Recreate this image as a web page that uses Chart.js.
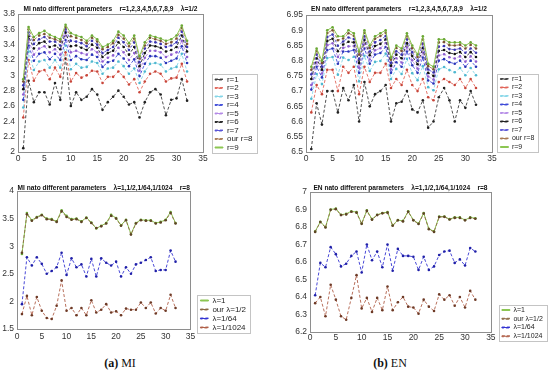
<!doctype html>
<html lang="en">
<head>
  <meta charset="utf-8">
  <title>MI / EN nato different parameters</title>
  <style type="text/css">
    html, body {
      margin: 0;
      padding: 0;
      background: #fff;
      overflow: hidden;
    }
    .panel {
      position: absolute;
    }
    .cap {
      position: absolute;
      text-align: center;
      font-family: "Liberation Serif", "DejaVu Serif", serif;
      font-size: 12px;
      line-height: 14px;
      color: #111;
    }
  </style>
</head>
<body>

  <canvas id="chart_mi_r" class="panel" style="left:0px;top:0px;"></canvas>
  <canvas id="chart_en_r" class="panel" style="left:275px;top:0px;"></canvas>
  <canvas id="chart_mi_lam" class="panel" style="left:0px;top:175px;"></canvas>
  <canvas id="chart_en_lam" class="panel" style="left:275px;top:175px;"></canvas>

  <div class="cap" style="left:0px;width:240px;top:356px;"><b>(a)</b> MI</div>
  <div class="cap" style="left:280px;width:220px;top:356px;"><b>(b)</b> EN</div>

  <script src="https://cdn.jsdelivr.net/npm/chart.js"></script>

  <script>
    const xs = [1, 2, 3, 4, 5, 6, 7, 8, 9, 10, 11, 12, 13, 14, 15, 16, 17, 18, 19, 20, 21, 22, 23, 24, 25, 26, 27, 28, 29, 30, 31, 32];

    const labels_r = ['r=1', 'r=2', 'r=3', 'r=4', 'r=5', 'r=6', 'r=7', 'our r=8', 'r=9'];
    const labels_lambda = ['\u03bb=1', 'our \u03bb=1/2', '\u03bb=1/64', '\u03bb=1/1024'];

    // MI, lambda = 1/2, r = 1..9
    const mi_r1 = [2.05, 2.93, 2.65, 2.78, 2.78, 2.62, 2.90, 2.68, 3.22, 2.60, 2.78, 2.68, 2.72, 2.82, 2.75, 2.55, 2.65, 2.72, 2.80, 2.72, 2.62, 2.65, 2.45, 2.65, 2.78, 2.82, 2.75, 2.48, 2.68, 2.70, 2.95, 2.67];
    const mi_r2 = [2.45, 3.20, 2.93, 3.05, 3.07, 2.95, 3.10, 2.98, 3.30, 2.92, 3.03, 2.97, 3.00, 3.06, 3.05, 2.90, 2.98, 2.98, 3.05, 2.98, 2.88, 2.95, 2.78, 2.92, 3.02, 3.05, 3.02, 2.92, 2.96, 2.97, 3.15, 2.92];
    const mi_r3 = [2.58, 3.31, 3.07, 3.18, 3.20, 3.10, 3.20, 3.10, 3.39, 3.08, 3.15, 3.10, 3.11, 3.18, 3.16, 3.02, 3.09, 3.10, 3.18, 3.12, 3.02, 3.09, 2.90, 3.05, 3.15, 3.16, 3.14, 3.05, 3.09, 3.11, 3.28, 3.05];
    const mi_r4 = [2.68, 3.39, 3.19, 3.28, 3.30, 3.21, 3.28, 3.20, 3.46, 3.20, 3.25, 3.21, 3.20, 3.27, 3.24, 3.11, 3.17, 3.19, 3.28, 3.22, 3.12, 3.21, 2.99, 3.15, 3.25, 3.25, 3.23, 3.16, 3.19, 3.22, 3.38, 3.16];
    const mi_r5 = [2.75, 3.46, 3.27, 3.35, 3.38, 3.30, 3.34, 3.27, 3.52, 3.30, 3.32, 3.29, 3.27, 3.34, 3.30, 3.18, 3.23, 3.26, 3.36, 3.30, 3.20, 3.29, 3.06, 3.23, 3.32, 3.32, 3.30, 3.24, 3.27, 3.30, 3.45, 3.24];
    const mi_r6 = [2.82, 3.51, 3.35, 3.42, 3.44, 3.37, 3.39, 3.34, 3.56, 3.38, 3.39, 3.36, 3.33, 3.40, 3.36, 3.24, 3.29, 3.32, 3.43, 3.37, 3.27, 3.37, 3.12, 3.29, 3.39, 3.38, 3.36, 3.31, 3.33, 3.37, 3.52, 3.31];
    const mi_r7 = [2.87, 3.56, 3.41, 3.47, 3.50, 3.44, 3.44, 3.39, 3.60, 3.45, 3.44, 3.42, 3.38, 3.45, 3.40, 3.29, 3.33, 3.37, 3.49, 3.43, 3.33, 3.43, 3.17, 3.35, 3.44, 3.43, 3.41, 3.37, 3.39, 3.43, 3.57, 3.37];
    const mi_r8 = [2.92, 3.60, 3.46, 3.52, 3.54, 3.49, 3.47, 3.44, 3.63, 3.51, 3.49, 3.46, 3.42, 3.49, 3.44, 3.34, 3.37, 3.42, 3.53, 3.48, 3.38, 3.48, 3.22, 3.39, 3.49, 3.47, 3.45, 3.41, 3.43, 3.48, 3.62, 3.41];
    const mi_r9 = [2.95, 3.63, 3.50, 3.55, 3.58, 3.53, 3.50, 3.47, 3.66, 3.55, 3.52, 3.50, 3.45, 3.52, 3.47, 3.37, 3.40, 3.45, 3.57, 3.52, 3.42, 3.52, 3.25, 3.43, 3.52, 3.50, 3.48, 3.45, 3.47, 3.52, 3.65, 3.45];

    // EN, lambda = 1/2, r = 1..9
    const en_r1 = [6.51, 6.66, 6.59, 6.70, 6.70, 6.63, 6.71, 6.67, 6.72, 6.60, 6.73, 6.65, 6.69, 6.70, 6.72, 6.60, 6.66, 6.665, 6.70, 6.64, 6.63, 6.67, 6.58, 6.60, 6.68, 6.71, 6.67, 6.60, 6.67, 6.645, 6.70, 6.655];
    const en_r2 = [6.63, 6.72, 6.69, 6.77, 6.77, 6.70, 6.78, 6.76, 6.78, 6.69, 6.78, 6.73, 6.76, 6.76, 6.79, 6.71, 6.74, 6.72, 6.77, 6.72, 6.70, 6.74, 6.68, 6.67, 6.73, 6.74, 6.73, 6.72, 6.74, 6.71, 6.74, 6.71];
    const en_r3 = [6.675, 6.756, 6.723, 6.809, 6.812, 6.754, 6.81, 6.802, 6.813, 6.732, 6.816, 6.766, 6.796, 6.799, 6.823, 6.74, 6.773, 6.756, 6.806, 6.759, 6.736, 6.782, 6.713, 6.703, 6.772, 6.779, 6.769, 6.762, 6.776, 6.752, 6.776, 6.752];
    const en_r4 = [6.705, 6.78, 6.745, 6.835, 6.84, 6.79, 6.83, 6.83, 6.835, 6.76, 6.84, 6.79, 6.82, 6.825, 6.845, 6.76, 6.795, 6.78, 6.83, 6.785, 6.76, 6.81, 6.735, 6.725, 6.80, 6.805, 6.795, 6.79, 6.80, 6.78, 6.80, 6.78];
    const en_r5 = [6.72, 6.794, 6.758, 6.851, 6.857, 6.812, 6.842, 6.847, 6.848, 6.777, 6.854, 6.804, 6.834, 6.841, 6.858, 6.772, 6.808, 6.794, 6.844, 6.801, 6.774, 6.827, 6.748, 6.738, 6.817, 6.821, 6.811, 6.807, 6.814, 6.797, 6.814, 6.797];
    const en_r6 = [6.74, 6.808, 6.77, 6.865, 6.872, 6.831, 6.853, 6.862, 6.86, 6.792, 6.868, 6.818, 6.848, 6.855, 6.87, 6.783, 6.82, 6.808, 6.858, 6.815, 6.788, 6.842, 6.76, 6.75, 6.832, 6.835, 6.825, 6.822, 6.828, 6.812, 6.828, 6.812];
    const en_r7 = [6.755, 6.82, 6.781, 6.878, 6.886, 6.849, 6.863, 6.876, 6.871, 6.806, 6.88, 6.83, 6.86, 6.868, 6.881, 6.793, 6.831, 6.82, 6.87, 6.828, 6.80, 6.856, 6.771, 6.761, 6.846, 6.848, 6.838, 6.836, 6.84, 6.826, 6.84, 6.826];
    const en_r8 = [6.77, 6.832, 6.792, 6.891, 6.90, 6.867, 6.873, 6.89, 6.882, 6.82, 6.892, 6.842, 6.872, 6.881, 6.892, 6.803, 6.842, 6.832, 6.882, 6.841, 6.812, 6.87, 6.782, 6.772, 6.86, 6.861, 6.851, 6.85, 6.852, 6.84, 6.852, 6.84];
    const en_r9 = [6.78, 6.84, 6.80, 6.90, 6.91, 6.88, 6.88, 6.90, 6.89, 6.83, 6.90, 6.85, 6.88, 6.89, 6.90, 6.81, 6.85, 6.84, 6.89, 6.85, 6.82, 6.88, 6.79, 6.78, 6.87, 6.87, 6.86, 6.86, 6.86, 6.85, 6.86, 6.85];

    // MI, r = 8, lambda = 1, 1/2, 1/64, 1/1024
    const mi_lam1 = [2.86, 3.60, 3.47, 3.53, 3.57, 3.50, 3.49, 3.45, 3.65, 3.55, 3.49, 3.50, 3.45, 3.52, 3.43, 3.32, 3.37, 3.42, 3.57, 3.51, 3.38, 3.48, 3.22, 3.42, 3.48, 3.47, 3.47, 3.42, 3.44, 3.48, 3.62, 3.42];
    const mi_lam2 = [2.88, 3.58, 3.46, 3.52, 3.56, 3.49, 3.48, 3.44, 3.63, 3.53, 3.48, 3.49, 3.44, 3.51, 3.42, 3.33, 3.36, 3.41, 3.55, 3.50, 3.37, 3.47, 3.21, 3.41, 3.47, 3.46, 3.46, 3.41, 3.43, 3.47, 3.60, 3.41];
    const mi_lam64 = [1.95, 2.80, 2.65, 2.80, 2.68, 2.50, 2.55, 2.62, 2.88, 2.48, 2.78, 2.62, 2.67, 2.45, 2.77, 2.45, 2.78, 2.70, 2.65, 2.72, 2.45, 2.62, 2.50, 2.67, 2.70, 2.75, 2.80, 2.55, 2.57, 2.57, 2.92, 2.72];
    const mi_lam1024 = [1.77, 2.10, 1.75, 2.08, 1.83, 1.70, 1.68, 1.92, 2.38, 1.83, 1.88, 1.75, 1.88, 1.75, 2.02, 1.80, 1.85, 1.95, 1.80, 1.82, 1.75, 1.87, 1.85, 1.85, 1.98, 1.88, 1.98, 1.78, 1.88, 1.83, 2.12, 1.88];

    // EN, r = 8, lambda = 1, 1/2, 1/64, 1/1024
    const en_lam1 = [6.775, 6.83, 6.80, 6.90, 6.905, 6.87, 6.875, 6.89, 6.885, 6.82, 6.895, 6.845, 6.87, 6.88, 6.885, 6.81, 6.84, 6.835, 6.89, 6.84, 6.82, 6.88, 6.79, 6.775, 6.86, 6.86, 6.845, 6.855, 6.855, 6.84, 6.855, 6.85];
    const en_lam2 = [6.772, 6.828, 6.797, 6.898, 6.902, 6.868, 6.872, 6.887, 6.882, 6.818, 6.892, 6.842, 6.868, 6.878, 6.882, 6.807, 6.838, 6.832, 6.887, 6.838, 6.817, 6.877, 6.787, 6.772, 6.857, 6.858, 6.843, 6.852, 6.852, 6.838, 6.852, 6.847];
    const en_lam64 = [6.41, 6.595, 6.57, 6.685, 6.645, 6.575, 6.59, 6.635, 6.66, 6.54, 6.70, 6.61, 6.66, 6.57, 6.70, 6.55, 6.675, 6.635, 6.635, 6.63, 6.555, 6.63, 6.555, 6.575, 6.64, 6.66, 6.665, 6.595, 6.615, 6.58, 6.68, 6.66];
    const en_lam1024 = [6.365, 6.40, 6.29, 6.47, 6.385, 6.29, 6.27, 6.395, 6.525, 6.335, 6.395, 6.315, 6.395, 6.325, 6.46, 6.325, 6.37, 6.40, 6.345, 6.34, 6.305, 6.385, 6.345, 6.32, 6.415, 6.385, 6.41, 6.35, 6.40, 6.34, 6.435, 6.385];

    const colors_r = ['#3c3c3c', '#e2675b', '#86d6e8', '#3f4cd8', '#b48ae6', '#222222', '#5a55d6', '#a87a55', '#8cc653'];
    const dots_r = ['#222222', '#c8463a', '#4fb8d0', '#2a35b8', '#8f5fd0', '#111111', '#3b35b0', '#7a5234', '#6aa835'];
    const colors_lambda = ['#8cc653', '#8c6a44', '#3434d2', '#b0604a'];
    const dots_lambda = ['#6aa835', '#5e4226', '#2020a8', '#6e3a26'];

    const FONT = '"Liberation Sans", Arial, sans-serif';

    function makeDatasets(seriesList, labels, colors, dots, solidLast) {
      return seriesList.map(function (values, i) {
        var solid = (i === 0 && !solidLast) || (i === seriesList.length - 1 && solidLast);
        return {
          label: labels[i],
          data: values.map(function (v, j) { return { x: xs[j], y: v }; }),
          borderColor: colors[i],
          backgroundColor: colors[i],
          borderDash: solid ? [] : [3, 2],
          borderWidth: solid ? 1 : 0.9,
          pointRadius: 1.3,
          pointBorderWidth: 0,
          pointBackgroundColor: dots[i],
          order: seriesList.length - i
        };
      });
    }

    function tickText(value) {
      return String(Math.round(value * 1000) / 1000);
    }

    // box round the plot area and round the legend, like the MATLAB axes
    const framePlugin = {
      id: 'frames',
      afterDraw(chart) {
        const ctx = chart.ctx;
        const a = chart.chartArea;
        ctx.save();
        ctx.strokeStyle = '#8e8e8e';
        ctx.lineWidth = 1;
        ctx.strokeRect(Math.round(a.left) + 0.5, Math.round(a.top) + 0.5,
          Math.round(a.right - a.left), Math.round(a.bottom - a.top));

        const hb = chart.legend.legendHitBoxes;
        if (hb && hb.length) {
          var l = Infinity, t = Infinity, r = -Infinity, b = -Infinity;
          hb.forEach(function (h) {
            l = Math.min(l, h.left);
            t = Math.min(t, h.top);
            r = Math.max(r, h.left + h.width);
            b = Math.max(b, h.top + h.height);
          });
          ctx.strokeStyle = '#c4c4c4';
          ctx.strokeRect(Math.round(l - 3) + 0.5, Math.round(t - 2) + 0.5,
            Math.round(r - l + 7), Math.round(b - t + 3));
        }
        ctx.restore();
      }
    };

    function makeChart(id, opts) {
      const canvas = document.getElementById(id);
      canvas.width = opts.width;
      canvas.height = opts.height;
      canvas.style.width = opts.width + 'px';
      canvas.style.height = opts.height + 'px';

      return new Chart(canvas, {
        type: 'line',
        data: { datasets: opts.datasets },
        options: {
          responsive: false,
          animation: false,
          events: [],
          layout: { padding: { left: 0, top: 0, right: opts.padRight, bottom: opts.padBottom } },
          scales: {
            x: {
              type: 'linear',
              min: 0,
              max: 35,
              grid: { display: false, drawTicks: false },
              border: { display: false },
              // mirrored with a negative padding: the labels sit under the axis
              // while the axis box itself stays thin, so the legend can hang lower
              ticks: { stepSize: 5, mirror: true, padding: -opts.xLabelOffset, color: '#333', font: { family: FONT, size: 8.5 } },
              afterFit: function (s) { s.height = opts.xAxisHeight; }
            },
            y: {
              min: opts.yMin,
              max: opts.yMax,
              grid: { display: false, drawTicks: false },
              border: { display: false },
              ticks: { stepSize: opts.yStep, padding: 3, color: '#333', font: { family: FONT, size: 8.5 }, callback: tickText },
              afterFit: function (s) { s.width = opts.yAxisWidth; }
            },
            gap: {
              type: 'linear',
              position: 'right',
              grid: { display: false, drawTicks: false },
              border: { display: false },
              ticks: { display: false },
              afterFit: function (s) { s.width = opts.gap; }
            }
          },
          plugins: {
            title: {
              display: true,
              text: opts.title,
              fullSize: false,
              color: '#111',
              font: { family: FONT, size: 6.6, weight: 'bold', lineHeight: 1 },
              padding: { top: opts.titleTop, bottom: opts.titleBottom }
            },
            legend: {
              position: 'right',
              align: 'end',
              fullSize: true,
              maxWidth: 140,
              labels: {
                boxWidth: 8,
                boxHeight: 1,
                padding: opts.legendPad,
                color: '#222',
                font: { family: FONT, size: opts.legendFont },
                sort: function (a, b) { return a.datasetIndex - b.datasetIndex; }
              }
            },
            tooltip: { enabled: false }
          }
        },
        plugins: [framePlugin]
      });
    }

    const chart_mi_r = makeChart('chart_mi_r', {
      width: 265, height: 170, padRight: 2.5, padBottom: 18,
      datasets: makeDatasets([mi_r1, mi_r2, mi_r3, mi_r4, mi_r5, mi_r6, mi_r7, mi_r8, mi_r9], labels_r, colors_r, dots_r, true),
      yMin: 2, yMax: 3.8, yStep: 0.2,
      yAxisWidth: 18, xAxisHeight: 0, xLabelOffset: 12, gap: 11.5, legendPad: 0.5, legendFont: 8,
      title: 'MI nato different parameters    r=1,2,3,4,5,6,7,8,9    \u03bb=1/2',
      titleTop: 6, titleBottom: 1.4
    });

    const chart_en_r = makeChart('chart_en_r', {
      width: 275, height: 170, padRight: 5.7, padBottom: 18,
      datasets: makeDatasets([en_r1, en_r2, en_r3, en_r4, en_r5, en_r6, en_r7, en_r8, en_r9], labels_r, colors_r, dots_r, true),
      yMin: 6.5, yMax: 6.95, yStep: 0.05,
      yAxisWidth: 31, xAxisHeight: 0, xLabelOffset: 12, gap: 7, legendPad: 1.5, legendFont: 7,
      title: 'EN nato different parameters    r=1,2,3,4,5,6,7,8,9    \u03bb=1/2',
      titleTop: 6, titleBottom: 2.4
    });

    const chart_mi_lam = makeChart('chart_mi_lam', {
      width: 270, height: 175, padRight: 14, padBottom: 17.5,
      datasets: makeDatasets([mi_lam1, mi_lam2, mi_lam64, mi_lam1024], labels_lambda, colors_lambda, dots_lambda, false),
      yMin: 1.5, yMax: 4, yStep: 0.5,
      yAxisWidth: 17, xAxisHeight: 3.5, xLabelOffset: 12.5, gap: 9, legendPad: 1, legendFont: 8,
      title: 'MI nato different parameters    \u03bb=1,1/2,1/64,1/1024    r=8',
      titleTop: 9.4, titleBottom: 0
    });

    const chart_en_lam = makeChart('chart_en_lam', {
      width: 283, height: 175, padRight: 5.2, padBottom: 8.5,
      datasets: makeDatasets([en_lam1, en_lam2, en_lam64, en_lam1024], labels_lambda, colors_lambda, dots_lambda, false),
      yMin: 6.2, yMax: 7, yStep: 0.1,
      yAxisWidth: 35, xAxisHeight: 9.5, xLabelOffset: 11, gap: 9.3, legendPad: 1.75, legendFont: 7,
      title: 'EN nato different parameters    \u03bb=1,1/2,1/64,1/1024    r=8',
      titleTop: 9.4, titleBottom: 1
    });
  </script>

</body>
</html>
